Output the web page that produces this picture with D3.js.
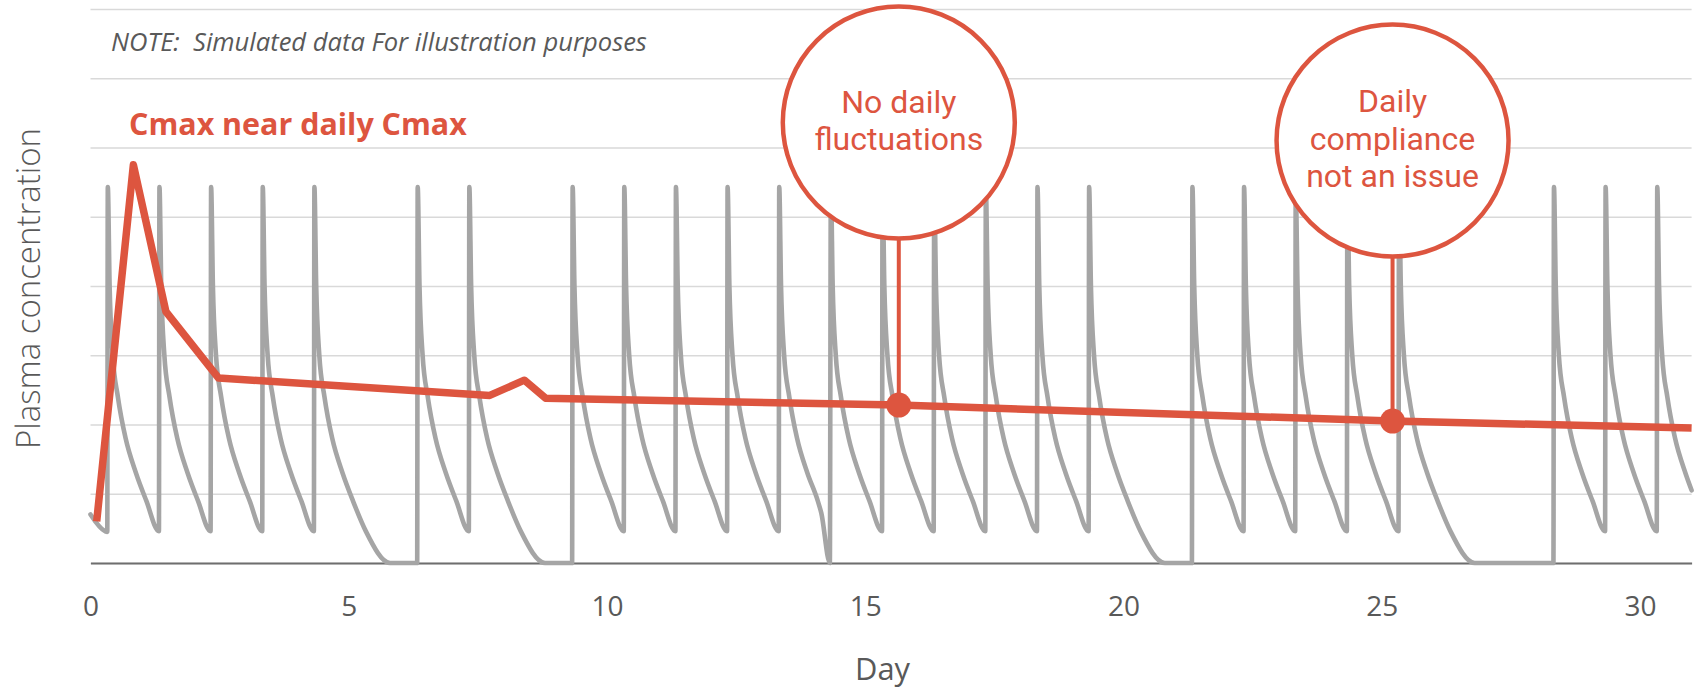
<!DOCTYPE html>
<html>
<head>
<meta charset="utf-8">
<script src="https://cdn.jsdelivr.net/npm/d3@7"></script>
<style>
html,body{margin:0;padding:0;background:#fff;}
svg{display:block;}
.pre{white-space:pre;}
</style>
</head>
<body>
<svg id="chart" width="1696" height="688"></svg>
<script>
// ---------------- DATA ----------------
const xTickValues = [0, 5, 10, 15, 20, 25, 30];
const yGridValues = [0, 1, 2, 3, 4, 5, 6, 7, 8];

// Daily oral pill (grey): [day, concentration]
const dailyPillSeries = [
  [0, 0.70], [0.28, 0.46], [0.325, 0.45],
  [0.335, 5.43], [0.37, 4.0], [0.43, 3.0], [0.53, 2.4], [0.68, 1.8], [0.88, 1.3], [1.08, 0.9], [1.325, 0.46],
  [1.335, 5.43], [1.37, 4.0], [1.43, 3.0], [1.53, 2.4], [1.68, 1.8], [1.88, 1.3], [2.08, 0.9], [2.325, 0.46],
  [2.335, 5.43], [2.37, 4.0], [2.43, 3.0], [2.53, 2.4], [2.68, 1.8], [2.88, 1.3], [3.08, 0.9], [3.325, 0.46],
  [3.335, 5.43], [3.37, 4.0], [3.43, 3.0], [3.53, 2.4], [3.68, 1.8], [3.88, 1.3], [4.08, 0.9], [4.325, 0.46],
  [4.335, 5.43], [4.37, 4.0], [4.43, 3.0], [4.53, 2.4], [4.68, 1.8], [4.88, 1.3], [5.08, 0.9], [5.33, 0.46], [5.80, 0], [6.325, 0],
  [6.335, 5.43], [6.37, 4.0], [6.43, 3.0], [6.53, 2.4], [6.68, 1.8], [6.88, 1.3], [7.08, 0.9], [7.325, 0.46],
  [7.335, 5.43], [7.37, 4.0], [7.43, 3.0], [7.53, 2.4], [7.68, 1.8], [7.88, 1.3], [8.08, 0.9], [8.33, 0.46], [8.80, 0], [9.325, 0],
  [9.335, 5.43], [9.37, 4.0], [9.43, 3.0], [9.53, 2.4], [9.68, 1.8], [9.88, 1.3], [10.08, 0.9], [10.325, 0.46],
  [10.335, 5.43], [10.37, 4.0], [10.43, 3.0], [10.53, 2.4], [10.68, 1.8], [10.88, 1.3], [11.08, 0.9], [11.325, 0.46],
  [11.335, 5.43], [11.37, 4.0], [11.43, 3.0], [11.53, 2.4], [11.68, 1.8], [11.88, 1.3], [12.08, 0.9], [12.325, 0.46],
  [12.335, 5.43], [12.37, 4.0], [12.43, 3.0], [12.53, 2.4], [12.68, 1.8], [12.88, 1.3], [13.08, 0.9], [13.325, 0.46],
  [13.335, 5.43], [13.37, 4.0], [13.43, 3.0], [13.53, 2.4], [13.68, 1.8], [13.88, 1.3], [14.08, 0.9], [14.15, 0.72], [14.315, 0],
  [14.335, 5.43], [14.37, 4.0], [14.43, 3.0], [14.53, 2.4], [14.68, 1.8], [14.88, 1.3], [15.08, 0.9], [15.325, 0.46],
  [15.335, 5.43], [15.37, 4.0], [15.43, 3.0], [15.53, 2.4], [15.68, 1.8], [15.88, 1.3], [16.08, 0.9], [16.325, 0.46],
  [16.335, 5.43], [16.37, 4.0], [16.43, 3.0], [16.53, 2.4], [16.68, 1.8], [16.88, 1.3], [17.08, 0.9], [17.325, 0.46],
  [17.335, 5.43], [17.37, 4.0], [17.43, 3.0], [17.53, 2.4], [17.68, 1.8], [17.88, 1.3], [18.08, 0.9], [18.325, 0.46],
  [18.335, 5.43], [18.37, 4.0], [18.43, 3.0], [18.53, 2.4], [18.68, 1.8], [18.88, 1.3], [19.08, 0.9], [19.325, 0.46],
  [19.335, 5.43], [19.37, 4.0], [19.43, 3.0], [19.53, 2.4], [19.68, 1.8], [19.88, 1.3], [20.08, 0.9], [20.33, 0.46], [20.80, 0], [21.325, 0],
  [21.335, 5.43], [21.37, 4.0], [21.43, 3.0], [21.53, 2.4], [21.68, 1.8], [21.88, 1.3], [22.08, 0.9], [22.325, 0.46],
  [22.335, 5.43], [22.37, 4.0], [22.43, 3.0], [22.53, 2.4], [22.68, 1.8], [22.88, 1.3], [23.08, 0.9], [23.325, 0.46],
  [23.335, 5.43], [23.37, 4.0], [23.43, 3.0], [23.53, 2.4], [23.68, 1.8], [23.88, 1.3], [24.08, 0.9], [24.325, 0.46],
  [24.335, 5.43], [24.37, 4.0], [24.43, 3.0], [24.53, 2.4], [24.68, 1.8], [24.88, 1.3], [25.08, 0.9], [25.325, 0.46],
  [25.335, 5.43], [25.37, 4.0], [25.43, 3.0], [25.53, 2.4], [25.68, 1.8], [25.88, 1.3], [26.08, 0.9], [26.33, 0.46], [26.80, 0], [28.325, 0],
  [28.335, 5.43], [28.37, 4.0], [28.43, 3.0], [28.53, 2.4], [28.68, 1.8], [28.88, 1.3], [29.08, 0.9], [29.325, 0.46],
  [29.335, 5.43], [29.37, 4.0], [29.43, 3.0], [29.53, 2.4], [29.68, 1.8], [29.88, 1.3], [30.08, 0.9], [30.325, 0.46],
  [30.335, 5.43], [30.37, 4.0], [30.43, 3.0], [30.53, 2.4], [30.68, 1.8], [30.88, 1.3], [31.0, 1.05]
];

// Long-acting formulation (red)
const longActingDays   = [0.12, 0.83, 1.46, 2.48, 7.73, 8.40, 8.81, 15.65, 25.21, 31.0];
const longActingValues = [0.60, 5.75, 3.63, 2.67, 2.42, 2.64, 2.38, 2.28, 2.05, 1.95];

// Callouts
const calloutDays = [15.65, 25.21];
const calloutValues = [2.28, 2.05];
const calloutBubbleValues = [6.36, 6.10];
const calloutTexts = [["No daily", "fluctuations"], ["Daily", "compliance", "not an issue"]];

const noteText = "NOTE:  Simulated data For illustration purposes";
const cmaxLabel = "Cmax near daily Cmax";
const xTitle = "Day";
const yTitle = "Plasma concentration";

// ---------------- LAYOUT ----------------
const RED = "#DD553F", GREY = "#A5A5A5", TEXT = "#595959";
const FONT = "'Open Sans', 'Noto Sans', sans-serif";
const BUBBLE_FONT = "Roboto, 'Open Sans', sans-serif";
const plot = {left: 90.5, right: 1691.6, top: 9, bottom: 563};

const svg = d3.select("#chart");
const x = d3.scaleLinear().domain([0, 31]).range([plot.left, plot.right]);
const y = d3.scaleLinear().domain([0, 8]).range([plot.bottom, plot.top]);

function fit(sel, target) {
  const w = sel.node().getComputedTextLength();
  const fs = parseFloat(sel.attr("font-size"));
  sel.attr("font-size", fs * target / w);
  return fs * target / w;
}

// gridlines
svg.append("g")
  .attr("transform", `translate(${plot.left},0)`)
  .call(d3.axisLeft(y).tickValues(yGridValues).tickSize(-(plot.right - plot.left)).tickFormat(""))
  .call(g => g.select(".domain").remove())
  .call(g => g.selectAll("line").attr("stroke", "#D9D9D9").attr("stroke-width", 1.6));

// x axis
const xa = svg.append("g")
  .attr("transform", `translate(0,${plot.bottom})`)
  .call(d3.axisBottom(x).tickValues(xTickValues).tickSize(0).tickSizeOuter(0).tickFormat(d3.format("d")));
xa.select(".domain").attr("stroke", "#6E6E6E").attr("stroke-width", 2.2);
xa.selectAll("text")
  .attr("y", 53).attr("dy", 0)
  .attr("font-size", 28).attr("font-family", FONT).attr("fill", TEXT);

// grey daily pill line
const line = d3.line().x(d => x(d[0])).y(d => y(d[1])).curve(d3.curveMonotoneX);
svg.append("path")
  .datum(dailyPillSeries)
  .attr("d", line)
  .attr("fill", "none")
  .attr("stroke", GREY)
  .attr("stroke-width", 4.6)
  .attr("stroke-linejoin", "round")
  .attr("stroke-linecap", "round");

// callout stems & bubbles
calloutDays.forEach((d, i) => {
  const cx = x(d), cy = y(calloutBubbleValues[i]), r = 116;
  svg.append("line")
    .attr("x1", cx).attr("x2", cx)
    .attr("y1", cy + r).attr("y2", y(calloutValues[i]))
    .attr("stroke", RED).attr("stroke-width", 4);
  svg.append("circle")
    .attr("cx", cx).attr("cy", cy).attr("r", r)
    .attr("fill", "#fff").attr("stroke", RED).attr("stroke-width", 4.5);
});

// red long-acting line
const redData = longActingDays.map((d, i) => [d, longActingValues[i]]);
svg.append("path")
  .datum(redData)
  .attr("d", d3.line().x(d => x(d[0])).y(d => y(d[1])))
  .attr("fill", "none")
  .attr("stroke", RED)
  .attr("stroke-width", 7.5)
  .attr("stroke-linejoin", "round");

// callout dots
calloutDays.forEach((d, i) => {
  svg.append("circle")
    .attr("cx", x(d)).attr("cy", y(calloutValues[i])).attr("r", 12.5)
    .attr("fill", RED);
});

// bubble texts: one text element per bubble, lines as tspans
const bubbleFont = 32, lh = 37.5;
calloutDays.forEach((d, i) => {
  const cx = x(d), cy = y(calloutBubbleValues[i]);
  const lines = calloutTexts[i];
  const t = svg.append("text")
    .attr("text-anchor", "middle")
    .attr("font-family", BUBBLE_FONT)
    .attr("font-size", bubbleFont)
    .attr("fill", RED);
  lines.forEach((s, j) => {
    t.append("tspan")
      .attr("x", cx)
      .attr("y", cy - (lines.length - 1) / 2 * lh + 9 + j * lh)
      .text(s);
  });
});

// Note
const note = svg.append("text")
  .attr("class", "pre")
  .attr("xml:space", "preserve")
  .attr("x", 111).attr("y", 50.5)
  .attr("font-family", FONT).attr("font-style", "italic")
  .attr("font-size", 22).attr("fill", TEXT)
  .text(noteText);
fit(note, 536);

// Cmax label
const cm = svg.append("text")
  .attr("x", 129).attr("y", 134.5)
  .attr("font-family", FONT).attr("font-weight", 700)
  .attr("font-size", 29).attr("fill", RED)
  .text(cmaxLabel);
fit(cm, 338);

// axis titles
const xt = svg.append("text")
  .attr("x", 882.5).attr("y", 680)
  .attr("text-anchor", "middle")
  .attr("font-family", FONT).attr("font-size", 31).attr("fill", TEXT)
  .text(xTitle);
fit(xt, 55);

const yt = svg.append("text")
  .attr("transform", "translate(40,288.5) rotate(-90)")
  .attr("text-anchor", "middle")
  .attr("font-family", FONT).attr("font-weight", 300)
  .attr("font-size", 30).attr("fill", TEXT)
  .text(yTitle);
fit(yt, 321);
</script>
</body>
</html>
